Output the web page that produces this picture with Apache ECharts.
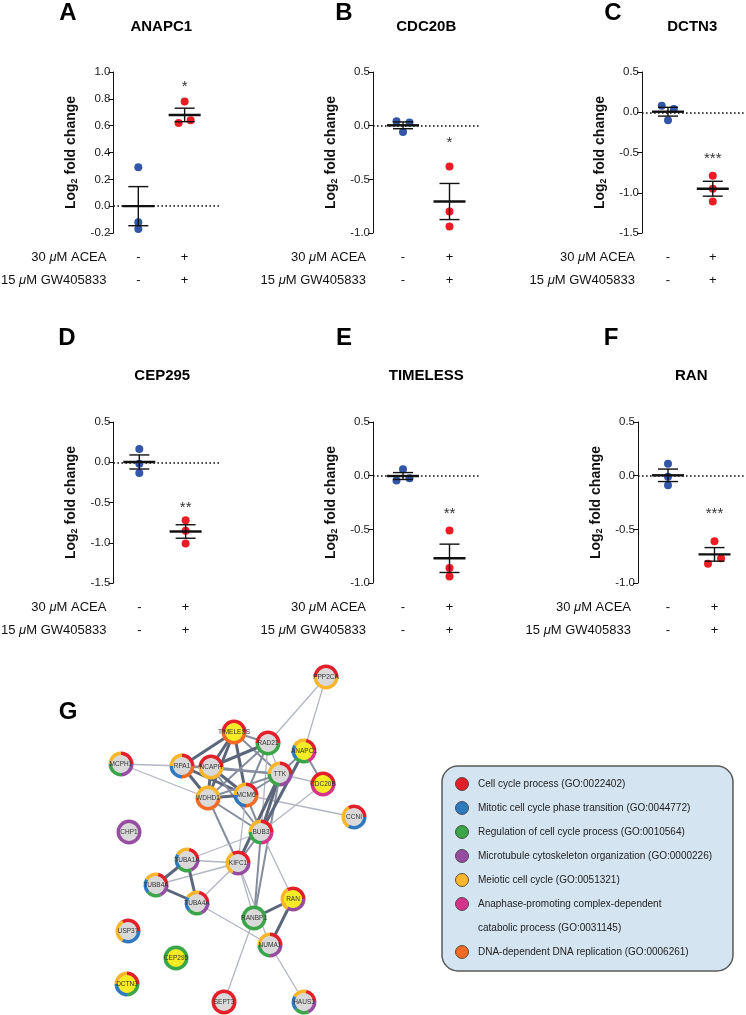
<!DOCTYPE html>
<html><head><meta charset="utf-8">
<script src="https://cdn.jsdelivr.net/npm/echarts@6/dist/echarts.min.js"></script>
<style>html,body{margin:0;padding:0;background:#fff}#c{width:746px;height:1015px}</style>
</head><body><div id="c"></div>
<script>
// ---------------- data: panels A–F ----------------
const panelLetters = ['A', 'B', 'C', 'D', 'E', 'F'];
const geneTitles = ['ANAPC1', 'CDC20B', 'DCTN3', 'CEP295', 'TIMELESS', 'RAN'];
const groupTicks = [1, 2];
const aceaRow = ['-', '+'];
const gwRow = ['-', '+'];
const rowNames = ['30 {i|\u03bc}M ACEA', '15 {i|\u03bc}M GW405833'];
// [x position (group 1 = control, 2 = treated, with jitter), log2 fold change]
const controlA = [[1.00, 0.29], [1.00, -0.12], [1.00, -0.17]];
const treatedA = [[2.00, 0.78], [1.87, 0.62], [2.13, 0.64]];
const controlB = [[0.86, 0.04], [1.14, 0.03], [1.00, -0.06]];
const treatedB = [[2.00, -0.38], [2.00, -0.80], [2.00, -0.94]];
const controlC = [[0.86, 0.08], [1.13, 0.04], [1.00, -0.10]];
const treatedC = [[2.00, -0.79], [2.00, -0.95], [2.00, -1.11]];
const controlD = [[1.00, 0.165], [1.00, -0.02], [1.00, -0.135]];
const treatedD = [[2.00, -0.72], [2.00, -0.85], [2.00, -1.01]];
const controlE = [[1.00, 0.06], [0.86, -0.045], [1.14, -0.025]];
const treatedE = [[2.00, -0.51], [2.00, -0.86], [2.00, -0.94]];
const controlF = [[1.00, 0.11], [1.00, -0.01], [1.00, -0.09]];
const treatedF = [[2.00, -0.61], [1.86, -0.82], [2.14, -0.77]];
const significance = ['*', '*', '***', '**', '**', '***'];
const significanceY = [0.92, -0.12, -0.53, -0.52, -0.32, -0.32];
const yMins = [-0.2, -1.0, -1.5, -1.5, -1.0, -1.0];
const yMaxs = [1.0, 0.5, 0.5, 0.5, 0.5, 0.5];
const yIntervals = [0.2, 0.5, 0.5, 0.5, 0.5, 0.5];

// ---------------- data: panel G network ----------------
const goTerms = [
  'Cell cycle process (GO:0022402)',
  'Mitotic cell cycle phase transition (GO:0044772)',
  'Regulation of cell cycle process (GO:0010564)',
  'Microtubule cytoskeleton organization (GO:0000226)',
  'Meiotic cell cycle (GO:0051321)',
  'Anaphase-promoting complex-dependent\ncatabolic process (GO:0031145)',
  'DNA-dependent DNA replication (GO:0006261)'
];
const goColors = ['#e3202a', '#2f79bf', '#3ca549', '#964da1', '#fcb62c', '#d5348a', '#f26a23'];
const nodeNames = ['PPP2CA','TIMELESS','RAD21','ANAPC1','MCPH1','RPA1','NCAPH','TTK','CDC20B','WDHD1','MCM6','CCNI','CHP1','BUB3','TUBA1A','KIFC1','TUBB4A','TUBA4A','RAN','RANBP1','USP37','NUMA1','CEP295','DCTN3','SEPT3','HAUS3'];
const nodeX = [226,134,168,204,21,82,111,180,223,108,146,254,29,161,87,138,56,97,193,154,28,170,76,27,124,204];
const nodeY = [17,72,83,91,104,106,107,114,124,138,135,157,172,172,200,203,225,243,239,258,271,285,298,324,342,342];
// GO term indices on each node's ring, clockwise
const nodeTerms = [[0,4],[0,6],[0,2],[4,0,5,2,1],[4,0,3,2],[4,0,6,1],[0,4],[4,0,3,2],[0,5],[4,6],[4,0,6,1],[0,1,4],[3],[4,0,5,2],[4,0,3,2,1],[0,3,4],[4,0,3,2,1],[4,0,3,2,1],[0,3,4],[2],[0,1,4],[4,0,3,2],[2],[4,0,2,1],[0],[4,0,3,2,1]];
const highlighted = ['TIMELESS','ANAPC1','CDC20B','RAN','CEP295','DCTN3'];
// [node, node, confidence level 1..3]
const edgeList = [
  ['PPP2CA','RAD21',1],['PPP2CA','ANAPC1',1],['MCPH1','RPA1',1],['MCPH1','WDHD1',1],
  ['TIMELESS','RAD21',2],['TIMELESS','RPA1',3],['TIMELESS','NCAPH',3],['TIMELESS','WDHD1',3],
  ['TIMELESS','MCM6',3],['TIMELESS','TTK',2],['RAD21','NCAPH',3],['RAD21','MCM6',2],
  ['RAD21','TTK',1],['RAD21','BUB3',1],['RAD21','WDHD1',2],['RPA1','NCAPH',2],
  ['RPA1','WDHD1',3],['RPA1','MCM6',3],['RPA1','TTK',2],['NCAPH','WDHD1',3],
  ['NCAPH','MCM6',3],['NCAPH','TTK',2],['NCAPH','BUB3',2],['WDHD1','MCM6',3],
  ['WDHD1','TTK',2],['WDHD1','BUB3',2],['WDHD1','KIFC1',2],['MCM6','TTK',2],
  ['MCM6','BUB3',2],['MCM6','CCNI',1],['MCM6','KIFC1',1],['TTK','ANAPC1',2],
  ['TTK','CDC20B',1],['TTK','BUB3',3],['TTK','KIFC1',3],['TTK','RANBP1',2],
  ['ANAPC1','CDC20B',2],['ANAPC1','BUB3',3],['CDC20B','BUB3',1],['BUB3','KIFC1',2],
  ['BUB3','TUBA1A',1],['BUB3','RANBP1',2],['BUB3','RAN',1],['KIFC1','TUBA1A',1],
  ['KIFC1','TUBB4A',1],['KIFC1','TUBA4A',1],['KIFC1','RANBP1',1],['KIFC1','NUMA1',1],
  ['TUBA1A','TUBB4A',3],['TUBA1A','TUBA4A',3],['TUBB4A','TUBA4A',3],['TUBA4A','NUMA1',1],
  ['RAN','RANBP1',3],['RAN','NUMA1',3],['RANBP1','SEPT3',1],['NUMA1','HAUS3',1]
];

// ---------------- layout & style ----------------
const FONT = '"Liberation Sans", Arial, Helvetica, sans-serif';
const gridLeft = [113, 373, 642, 113, 373, 638];
const gridTop = [72, 72, 72, 422, 422, 422];
const axisToFirst = [25, 30, 27, 26, 30, 30];
const letterPos = [[68, 13], [344, 13], [613, 13], [67, 338], [344, 338], [611, 338]];
const titleY = [27, 27, 27, 376, 376, 376];
const STEP = 46.5, GW = 108, GH = 161;
const BLUE = '#3356a8', RED = '#ec1c24';

const controls = [controlA, controlB, controlC, controlD, controlE, controlF];
const treateds = [treatedA, treatedB, treatedC, treatedD, treatedE, treatedF];

function mean(a) { return a.reduce((s, p) => s + p[1], 0) / a.length; }
function sem(a) {
  const m = mean(a);
  const v = a.reduce((s, p) => s + (p[1] - m) * (p[1] - m), 0) / (a.length - 1);
  return Math.sqrt(v) / Math.sqrt(a.length);
}
function centerText(x, y, text, font, fill) {
  return { type: 'text', x, y, style: { text, font, fill,
    textAlign: 'center', textVerticalAlign: 'middle', align: 'center', verticalAlign: 'middle' } };
}

const grids = [], xAxes = [], yAxes = [], series = [], graphics = [];

for (let i = 0; i < 6; i++) {
  grids.push({ left: gridLeft[i], top: gridTop[i], width: GW, height: GH });
  const xMin = 1 - axisToFirst[i] / STEP;
  const xMax = xMin + GW / STEP;
  [aceaRow, gwRow].forEach((row, r) => {
    xAxes.push({
      gridIndex: i, type: 'value', min: xMin, max: xMax, position: 'bottom',
      offset: r === 0 ? 24 : 47,
      axisLine: { show: false, onZero: false }, axisTick: { show: false }, splitLine: { show: false },
      axisLabel: {
        customValues: groupTicks, margin: 0, verticalAlign: 'middle',
        fontSize: 13, fontFamily: FONT, color: '#111',
        formatter: v => row[groupTicks.indexOf(Math.round(v))] || ''
      },
      name: rowNames[r], nameLocation: 'start', nameGap: 7,
      nameTextStyle: { fontSize: 13, fontFamily: FONT, color: '#111', verticalAlign: 'middle',
        rich: { i: { fontStyle: 'italic', fontSize: 13, fontFamily: FONT, color: '#111' } } }
    });
  });
  yAxes.push({
    gridIndex: i, type: 'value', min: yMins[i], max: yMaxs[i], interval: yIntervals[i],
    axisLine: { show: true, lineStyle: { color: '#111', width: 1 } },
    axisTick: { show: true, length: 5, lineStyle: { color: '#111', width: 1 } },
    splitLine: { show: false },
    axisLabel: { fontSize: 11.5, fontFamily: FONT, color: '#1a1a1a', margin: 3,
      formatter: v => v.toFixed(1) },
    name: '{b|Log}{s|2}{b| fold change}', nameLocation: 'middle', nameGap: 34, nameRotate: 90,
    nameTextStyle: { fontFamily: FONT, color: '#111',
      rich: {
        b: { fontSize: 14, fontWeight: 'bold', fontFamily: FONT, color: '#111' },
        s: { fontSize: 9, fontWeight: 'bold', fontFamily: FONT, color: '#111', padding: [7, 0, 0, 0] }
      } }
  });
  const xi = 2 * i;
  series.push({
    type: 'scatter', xAxisIndex: xi, yAxisIndex: i, data: controls[i],
    symbolSize: 8, itemStyle: { color: BLUE, opacity: 1 }, z: 3, silent: true,
    markLine: {
      silent: true, symbol: 'none', label: { show: false },
      lineStyle: { color: '#111', type: [1.6, 2.4], width: 1.6, opacity: 1 },
      data: [{ yAxis: 0 }], z: 1
    }
  });
  series.push({
    type: 'scatter', xAxisIndex: xi, yAxisIndex: i, data: treateds[i],
    symbolSize: 8, itemStyle: { color: RED, opacity: 1 }, z: 3, silent: true
  });
  const stats = [controls[i], treateds[i]].map((g, k) => [groupTicks[k], mean(g), sem(g)]);
  series.push({
    type: 'custom', xAxisIndex: xi, yAxisIndex: i, data: stats, z: 5, silent: true,
    encode: { x: 0, y: 1 },
    renderItem: (params, api) => {
      const x = api.value(0), m = api.value(1), s = api.value(2);
      const c = api.coord([x, m]), t = api.coord([x, m + s]), b = api.coord([x, m - s]);
      const st = { stroke: '#111', lineWidth: 1.4 };
      return { type: 'group', children: [
        { type: 'line', shape: { x1: c[0] - 16, y1: c[1], x2: c[0] + 16, y2: c[1] }, style: { stroke: '#111', lineWidth: 2.4 } },
        { type: 'line', shape: { x1: t[0], y1: t[1], x2: b[0], y2: b[1] }, style: st },
        { type: 'line', shape: { x1: t[0] - 10, y1: t[1], x2: t[0] + 10, y2: t[1] }, style: st },
        { type: 'line', shape: { x1: b[0] - 10, y1: b[1], x2: b[0] + 10, y2: b[1] }, style: st }
      ] };
    }
  });
  series.push({
    type: 'custom', xAxisIndex: xi, yAxisIndex: i, data: [[groupTicks[1], significanceY[i]]],
    z: 6, silent: true, encode: { x: 0, y: 1 },
    renderItem: (params, api) => {
      const c = api.coord([api.value(0), api.value(1)]);
      return centerText(c[0], c[1] + 4, significance[i], '15px ' + FONT, '#333');
    }
  });
  graphics.push(centerText(letterPos[i][0], letterPos[i][1], panelLetters[i], 'bold 24px ' + FONT, '#000'));
  graphics.push(centerText(gridLeft[i] + axisToFirst[i] + STEP / 2, titleY[i], geneTitles[i], 'bold 15px ' + FONT, '#000'));
}

// ---------------- panel G network ----------------
grids.push({ left: 100, top: 660, width: 280, height: 350 });
xAxes.push({ gridIndex: 6, type: 'value', min: 0, max: 280, show: false });
yAxes.push({ gridIndex: 6, type: 'value', min: 0, max: 350, inverse: true, show: false });
const edgeStyle = { 1: { stroke: '#b2b6c2', lineWidth: 1.3 }, 2: { stroke: '#868d9d', lineWidth: 2 }, 3: { stroke: '#5c667a', lineWidth: 3 } };
const edgeData = edgeList.map(([a, b, w]) => {
  const ia = nodeNames.indexOf(a), ib = nodeNames.indexOf(b);
  return [nodeX[ia], nodeY[ia], nodeX[ib], nodeY[ib], w];
});
series.push({
  type: 'custom', xAxisIndex: 12, yAxisIndex: 6, data: edgeData, z: 2, silent: true,
  encode: { x: [0, 2], y: [1, 3] },
  renderItem: (params, api) => {
    const p1 = api.coord([api.value(0), api.value(1)]);
    const p2 = api.coord([api.value(2), api.value(3)]);
    return { type: 'line', shape: { x1: p1[0], y1: p1[1], x2: p2[0], y2: p2[1] }, style: edgeStyle[api.value(4)] };
  }
});
const R = 12.5, R0 = 9;
const startHour = { 1: 0, 2: 9, 3: 11, 4: 9, 5: 10 };
series.push({
  type: 'custom', xAxisIndex: 12, yAxisIndex: 6, z: 4, silent: true,
  data: nodeNames.map((n, i) => [nodeX[i], nodeY[i], i]),
  encode: { x: 0, y: 1 },
  renderItem: (params, api) => {
    const i = api.value(2);
    const p = api.coord([api.value(0), api.value(1)]);
    const terms = nodeTerms[i], n = terms.length;
    const children = [];
    if (n === 1) {
      children.push({ type: 'circle', shape: { cx: p[0], cy: p[1], r: R }, style: { fill: goColors[terms[0]] } });
    } else {
      const s0 = startHour[n] / 12 * 2 * Math.PI - Math.PI / 2;
      terms.forEach((t, k) => {
        children.push({ type: 'sector', shape: { cx: p[0], cy: p[1], r0: R0 - 0.5, r: R,
          startAngle: s0 + k * 2 * Math.PI / n, endAngle: s0 + (k + 1) * 2 * Math.PI / n + 0.01, clockwise: true },
          style: { fill: goColors[t] } });
      });
    }
    const hi = highlighted.indexOf(nodeNames[i]) >= 0;
    children.push({ type: 'circle', shape: { cx: p[0], cy: p[1], r: R0 }, style: { fill: hi ? '#f6ec23' : '#d9d9d9' } });
    children.push(centerText(p[0], p[1], nodeNames[i], '6.5px ' + FONT, '#333'));
    return { type: 'group', children };
  }
});

graphics.push(centerText(68, 712, 'G', 'bold 24px ' + FONT, '#000'));

// legend box
graphics.push({ type: 'rect', shape: { x: 442, y: 766, width: 291, height: 205, r: 16 },
  style: { fill: '#d5e4f1', stroke: '#5a5a5a', lineWidth: 1.5 }, z: 1 });
let ly = 784;
goTerms.forEach((t, k) => {
  graphics.push({ type: 'circle', shape: { cx: 462, cy: ly, r: 6.5 }, style: { fill: goColors[k], stroke: '#333', lineWidth: 0.8 }, z: 2 });
  t.split('\n').forEach(line => {
    graphics.push({ type: 'text', x: 478, y: ly, z: 2, style: { text: line, font: '10px ' + FONT, fill: '#222',
      textAlign: 'left', textVerticalAlign: 'middle', align: 'left', verticalAlign: 'middle' } });
    ly += 24;
  });
});

const chart = echarts.init(document.getElementById('c'), null, { renderer: 'canvas' });
chart.setOption({
  animation: false,
  backgroundColor: '#fff',
  grid: grids, xAxis: xAxes, yAxis: yAxes, series: series, graphic: graphics
});
</script></body></html>
